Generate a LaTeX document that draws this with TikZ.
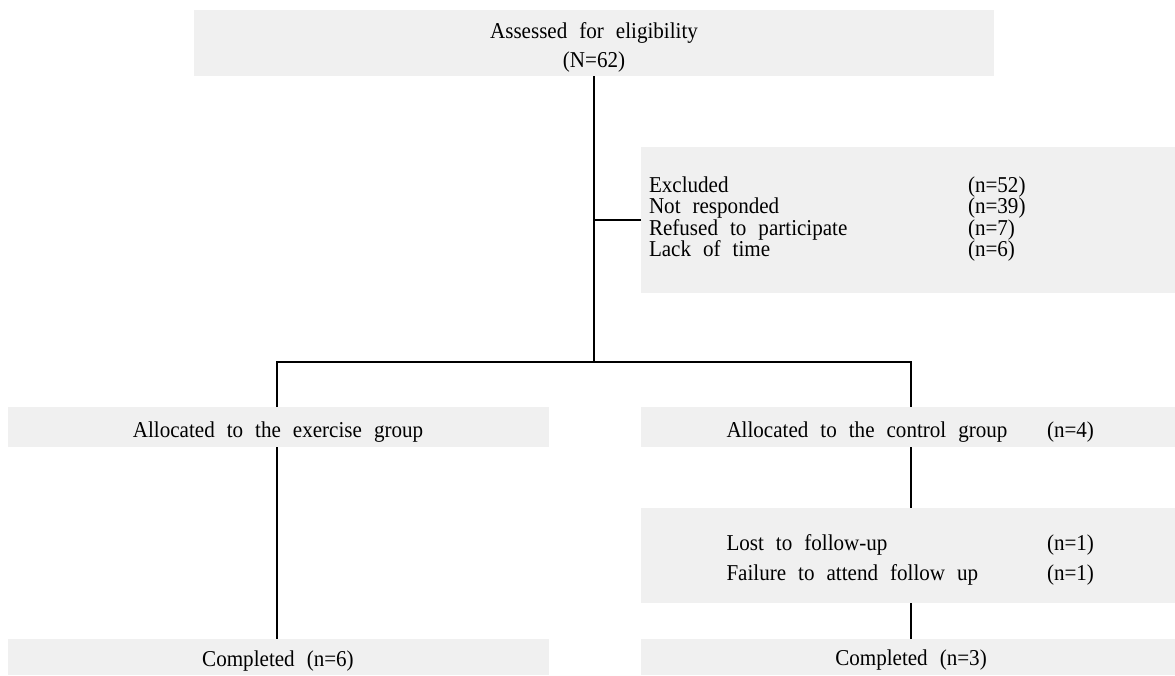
\documentclass[tikz,border=0pt]{standalone}
\usepackage{fontspec}
\setmainfont{Liberation Serif}
\newfontfamily\refserif[FakeStretch=0.93]{Liberation Serif}
\definecolor{boxgray}{HTML}{F0F0F0}
\newcommand\mytxtfont{\refserif\fontsize{17pt}{20pt}\selectfont\spaceskip=9pt\relax}
\begin{document}
\begin{tikzpicture}[x=0.75pt,y=-0.75pt,
  box/.style={fill=boxgray,draw=none,rectangle,inner sep=0pt,outer sep=0pt,anchor=north west},
  txt/.style={inner sep=0pt,outer sep=0pt,font=\mytxtfont},
  lnk/.style={draw=black,line width=1.3pt}]
\useasboundingbox (0,0) rectangle (1175,675);
% boxes
\node[box,minimum width={800*0.75pt},minimum height={66*0.75pt}] (top) at (194,10) {};
\node[box,minimum width={534*0.75pt},minimum height={146*0.75pt}] (excl) at (641,147) {};
\node[box,minimum width={541*0.75pt},minimum height={40*0.75pt}] (allocE) at (8,407) {};
\node[box,minimum width={534*0.75pt},minimum height={40*0.75pt}] (allocC) at (641,407) {};
\node[box,minimum width={534*0.75pt},minimum height={95*0.75pt}] (lost) at (641,508) {};
\node[box,minimum width={541*0.75pt},minimum height={36*0.75pt}] (compE) at (8,639) {};
\node[box,minimum width={534*0.75pt},minimum height={36*0.75pt}] (compC) at (641,639) {};
% texts
\node[txt,anchor=base] (t1) at (594,38) {Assessed for eligibility};
\node[txt,anchor=base] (t2) at (594,67) {(N=62)};
\node[txt,anchor=base west] (e1) at (649,192) {Excluded};
\node[txt,anchor=base west] (e1n) at (968,192) {(n=52)};
\node[txt,anchor=base west] (e2) at (649,213.5) {Not responded};
\node[txt,anchor=base west] (e2n) at (968,213.5) {(n=39)};
\node[txt,anchor=base west] (e3) at (649,235) {Refused to participate};
\node[txt,anchor=base west] (e3n) at (968,235) {(n=7)};
\node[txt,anchor=base west] (e4) at (649,256.5) {Lack of time};
\node[txt,anchor=base west] (e4n) at (968,256.5) {(n=6)};
\node[txt,anchor=base] (aE) at (278,437) {Allocated to the exercise group};
\node[txt,anchor=base west] (aC) at (726.5,437) {Allocated to the control group};
\node[txt,anchor=base west] (aCn) at (1047,437) {(n=4)};
\node[txt,anchor=base west] (l1) at (726.5,550) {Lost to follow-up};
\node[txt,anchor=base west] (l1n) at (1047,550) {(n=1)};
\node[txt,anchor=base west] (l2) at (726.5,580) {Failure to attend follow up};
\node[txt,anchor=base west] (l2n) at (1047,580) {(n=1)};
\node[txt,anchor=base] (cE) at (278,666) {Completed (n=6)};
\node[txt,anchor=base] (cC) at (911,665) {Completed (n=3)};
% connectors
\coordinate (split) at (594,362);
\coordinate (bl) at (277,362);
\coordinate (br) at (911,362);
\draw[lnk] (top.south -| split) -- (split);
\draw[lnk] (excl.west) -- (excl.west -| split);
\draw[lnk] (allocE.north -| bl) -- (bl) -- (br) -- (allocC.north -| br);
\draw[lnk] (allocE.south -| bl) -- (compE.north -| bl);
\draw[lnk] (allocC.south -| br) -- (lost.north -| br);
\draw[lnk] (lost.south -| br) -- (compC.north -| br);
\end{tikzpicture}
\end{document}
